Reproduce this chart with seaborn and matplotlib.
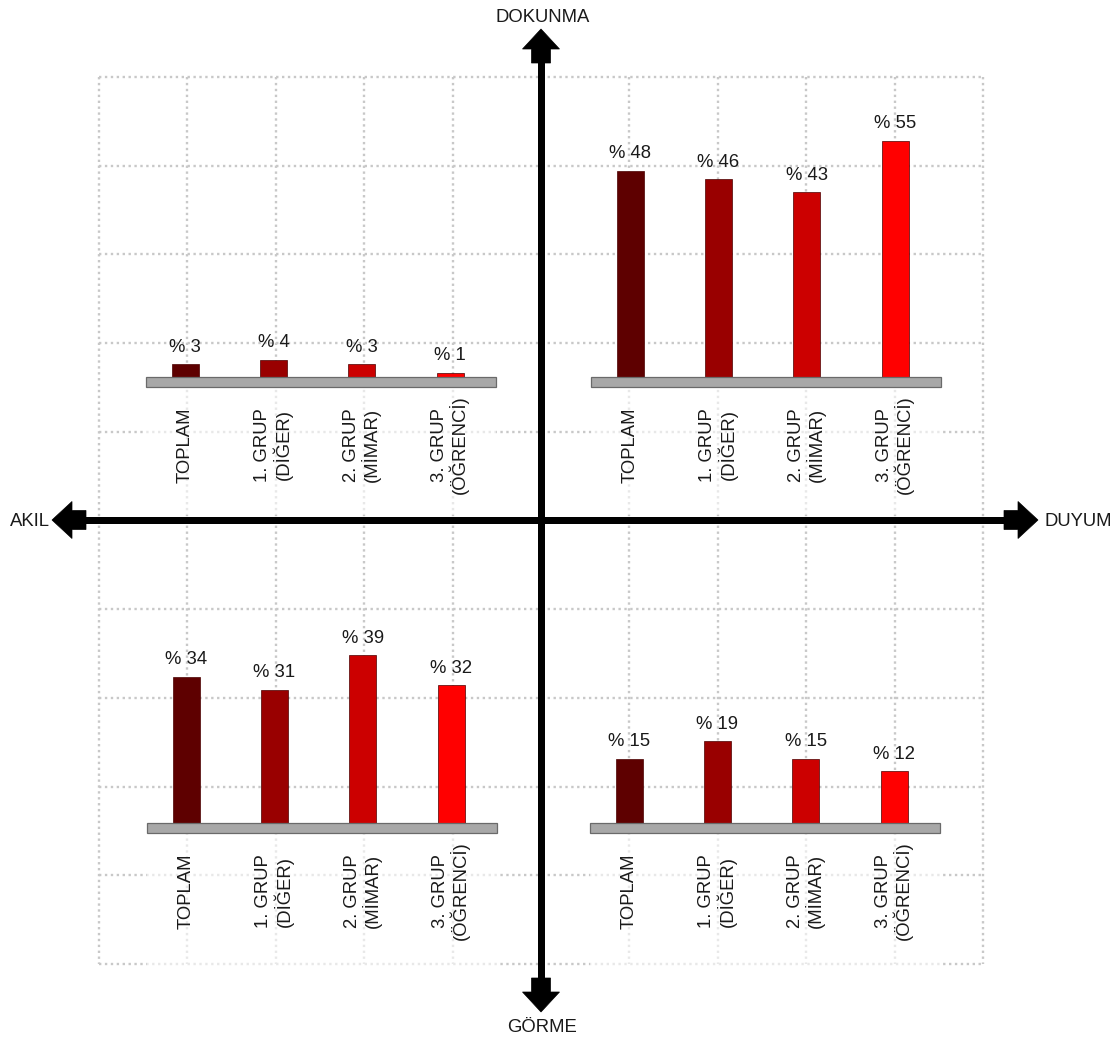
import matplotlib
matplotlib.use("Agg")
import matplotlib.pyplot as plt
from matplotlib.patches import Rectangle, Polygon
import seaborn as sns

# ---- data -----------------------------------------------------------------
categories = ["TOPLAM", "1. GRUP\n(DİĞER)", "2. GRUP\n(MİMAR)", "3. GRUP\n(ÖĞRENCİ)"]
bar_colors = ["#5e0000", "#990000", "#cc0000", "#ff0000"]

dokunma_akil = [3, 4, 3, 1]        # upper-left quadrant
dokunma_duyum = [48, 46, 43, 55]   # upper-right quadrant
gorme_akil = [34, 31, 39, 32]      # lower-left quadrant
gorme_duyum = [15, 19, 15, 12]     # lower-right quadrant

label_top = "DOKUNMA"
label_bottom = "GÖRME"
label_left = "AKIL"
label_right = "DUYUM"

# ---- style ----------------------------------------------------------------
sns.set_theme(style="white")
plt.rcParams["font.family"] = ["Liberation Sans", "DejaVu Sans"]
TEXT_COLOR = "#1a1a1a"
FS = 13.3

# ---- layout (pixels) ------------------------------------------------------
W, H = 1120, 1038
CX, CY = 541, 520                  # crossing point of the two axes
GX0, GX1, GY0, GY1 = 99, 983, 77, 964
N_CELLS = 10
STEP = (GX1 - GX0) / N_CELLS       # spacing between bar centres
PX_PER_PCT = 4.3
BASE_H = 10                        # thickness of grey base plate
LABEL_GAP = 68                     # base top -> centre of category labels
Y_LO, Y_HI = -4, 62
X_LO, X_HI = -0.6, 3.6

quadrants = [
    (dokunma_akil, 185, 377),
    (dokunma_duyum, 630, 377),
    (gorme_akil, 186, 823),
    (gorme_duyum, 629, 823),
]

fig = plt.figure(figsize=(W / 100, H / 100), dpi=100)
fig.patch.set_facecolor("white")

# background canvas in pixel coordinates: grid, arrows, axis titles
bg = fig.add_axes([0, 0, 1, 1])
bg.set_xlim(0, W)
bg.set_ylim(H, 0)
bg.axis("off")

grid_kw = dict(color="#c8c8c8", lw=1.7, ls=(0, (1, 1.5)), zorder=1)
for k in range(N_CELLS + 1):
    x = GX0 + k * STEP
    bg.plot([x, x], [GY0, GY1], **grid_kw)
    y = GY0 + k * (GY1 - GY0) / N_CELLS
    bg.plot([GX0, GX1], [y, y], **grid_kw)

# faded band behind the category labels
for _, c0, base in quadrants:
    left = c0 - 0.44 * STEP
    right = c0 + 3.52 * STEP
    top = base + BASE_H
    bottom = CY - 5 if base < CY else GY1 + 6
    bg.add_patch(Rectangle((left, top), right - left, bottom - top,
                           facecolor="white", edgecolor="none", alpha=0.6, zorder=2))

# block arrows on both axes
SHAFT = 7
HEAD_L, HEAD_HW = 20, 18.5
NECK_L, NECK_HW = 14, 9.5


def block_arrow(tip, direction):
    dx, dy = direction            # unit vector from tip towards the centre
    px, py = -dy, dx
    local = [(0, 0), (HEAD_L, -HEAD_HW), (HEAD_L, -NECK_HW),
             (HEAD_L + NECK_L, -NECK_HW), (HEAD_L + NECK_L, NECK_HW),
             (HEAD_L, NECK_HW), (HEAD_L, HEAD_HW)]
    pts = [(tip[0] + a * dx + b * px, tip[1] + a * dy + b * py) for a, b in local]
    bg.add_patch(Polygon(pts, closed=True, facecolor="black", edgecolor="black",
                         lw=0.5, zorder=5))


tips = {"top": (CX, 29), "bottom": (CX, 1012), "left": (52, CY), "right": (1038, CY)}
block_arrow(tips["top"], (0, 1))
block_arrow(tips["bottom"], (0, -1))
block_arrow(tips["left"], (1, 0))
block_arrow(tips["right"], (-1, 0))
reach = HEAD_L + NECK_L - 1
bg.add_patch(Rectangle((CX - SHAFT / 2, tips["top"][1] + reach), SHAFT,
                       tips["bottom"][1] - tips["top"][1] - 2 * reach,
                       facecolor="black", edgecolor="none", zorder=5))
bg.add_patch(Rectangle((tips["left"][0] + reach, CY - SHAFT / 2),
                       tips["right"][0] - tips["left"][0] - 2 * reach, SHAFT,
                       facecolor="black", edgecolor="none", zorder=5))

title_kw = dict(fontsize=FS, color=TEXT_COLOR, zorder=6)
bg.text(543, 18, label_top, ha="center", va="center", **title_kw)
bg.text(542, 1028, label_bottom, ha="center", va="center", **title_kw)
bg.text(50, 521, label_left, ha="right", va="center", **title_kw)
bg.text(1045, 521, label_right, ha="left", va="center", **title_kw)

# ---- the four bar charts --------------------------------------------------
for values, c0, base in quadrants:
    left_px = c0 + X_LO * STEP
    width_px = (X_HI - X_LO) * STEP
    bottom_px = base - Y_LO * PX_PER_PCT
    height_px = (Y_HI - Y_LO) * PX_PER_PCT
    ax = fig.add_axes([left_px / W, 1 - bottom_px / H, width_px / W, height_px / H])
    ax.patch.set_alpha(0)

    sns.barplot(x=categories, y=values, hue=categories, palette=bar_colors,
                saturation=1, width=27 / STEP, legend=False, ax=ax,
                edgecolor="#4a0000", linewidth=0.5, zorder=3)

    # grey base plate the bars stand on
    plate_h = BASE_H / PX_PER_PCT
    ax.add_patch(Rectangle((-0.44, -plate_h), 3.96, plate_h, facecolor="#a8a8a8",
                           edgecolor="#6a6a6a", lw=0.9, zorder=4))

    for i, v in enumerate(values):
        ax.annotate(f"% {v}", (i, v), xytext=(0, 9), textcoords="offset points",
                    ha="center", va="baseline", fontsize=FS, color=TEXT_COLOR)
        ax.text(i, -LABEL_GAP / PX_PER_PCT, categories[i], rotation=90,
                ha="center", va="center", multialignment="center",
                linespacing=1.05, fontsize=FS, color=TEXT_COLOR)

    ax.set_xlim(X_LO, X_HI)
    ax.set_ylim(Y_LO, Y_HI)
    ax.axis("off")

fig.savefig("out.png", dpi=100, facecolor="white")
